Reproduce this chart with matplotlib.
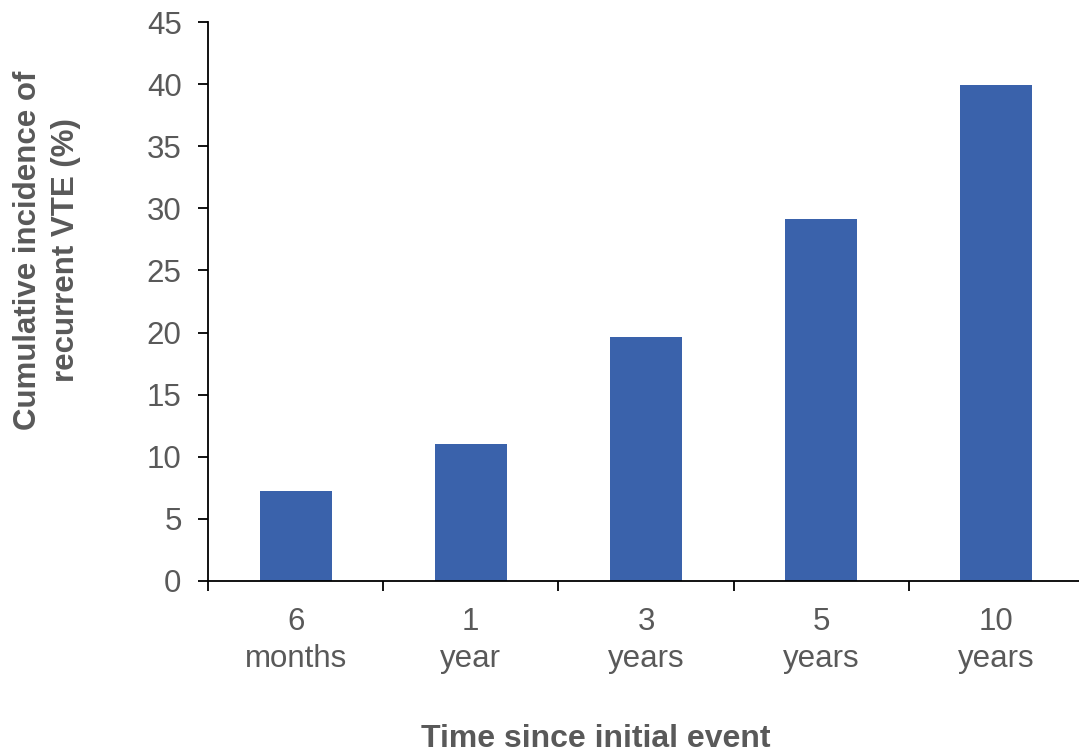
import matplotlib
matplotlib.use("Agg")
import matplotlib.pyplot as plt
import numpy as np

# cumulative incidence of recurrent VTE by time since the first event
periods = ["6\nmonths", "1\nyear", "3\nyears", "5\nyears", "10\nyears"]
incidence = [7.25, 11.05, 19.65, 29.15, 39.95]
y_ticks = [0, 5, 10, 15, 20, 25, 30, 35, 40, 45]

bar_color = "#3A62AB"
grey = "#595959"

plt.rcParams["font.family"] = ["Liberation Sans", "DejaVu Sans"]

fig = plt.figure(figsize=(10.79, 7.56), dpi=100)
ax = fig.add_axes([208 / 1079, 1 - 581 / 756, 876 / 1079, 559 / 756])

x = np.arange(len(periods))
ax.bar(x, incidence, width=0.41, color=bar_color, zorder=2)

ax.set_xlim(-0.5, len(periods) - 0.5)
ax.set_ylim(0, 45)
ax.set_yticks(y_ticks)

# category labels at bar centres, tick marks between categories
ax.set_xticks(x)
ax.set_xticklabels(periods, fontsize=22.5, color=grey, linespacing=1.3)
ax.tick_params(axis="x", which="major", length=0, pad=19)
ax.set_xticks(np.arange(len(periods) + 1) - 0.5, minor=True)
ax.tick_params(axis="x", which="minor", length=7, width=1.3, direction="out", color="black")
ax.tick_params(axis="y", length=7, width=1.3, direction="out", labelsize=22.5,
               labelcolor=grey, pad=12)

for side in ["top", "right"]:
    ax.spines[side].set_visible(False)
for side in ["left", "bottom"]:
    ax.spines[side].set_linewidth(1.3)
    ax.spines[side].set_color("black")

fig.text(47 / 1079, 1 - 250 / 756, "Cumulative incidence of\nrecurrent VTE (%)",
         rotation=90, ha="center", va="center", fontsize=22.5, fontweight="bold",
         color=grey, linespacing=1.35)
fig.text(596 / 1079, 1 - 739 / 756, "Time since initial event",
         ha="center", va="center", fontsize=23, fontweight="bold", color=grey)

fig.savefig("out.png", dpi=100)
